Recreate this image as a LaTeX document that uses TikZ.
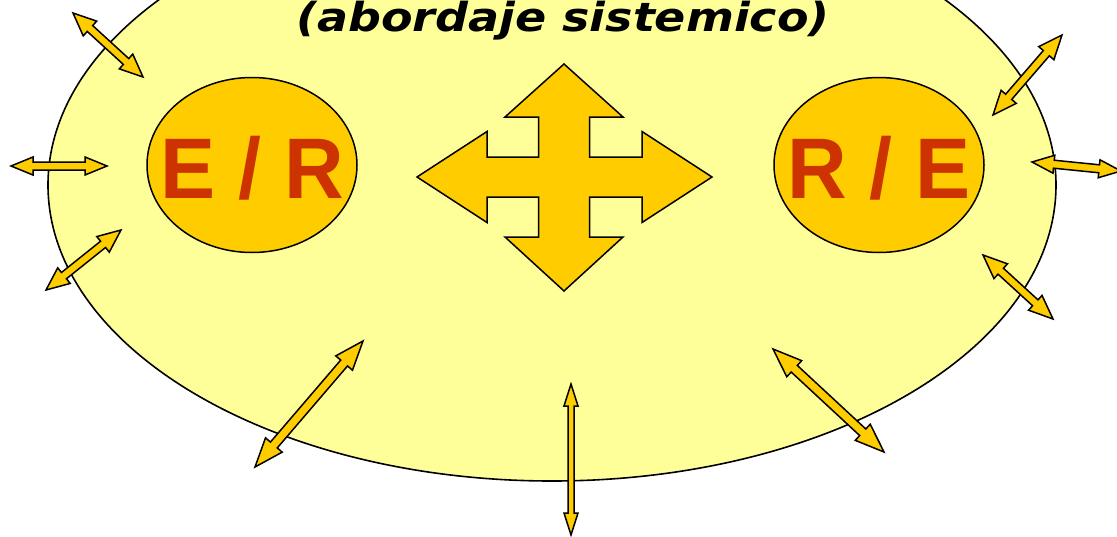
\documentclass[tikz,border=0pt]{standalone}
\usepackage{fontspec}
\usetikzlibrary{calc,shapes.geometric}

\newfontfamily\titlefont{DejaVu Sans}
\newfontfamily\letterfont{Liberation Sans}

\definecolor{paleyellow}{HTML}{FFFF99}
\definecolor{gold}{HTML}{FFCC00}
\definecolor{rust}{HTML}{CC3300}

% double headed block arrow between two named coordinates
% #3 shaft half width, #4 head half width, #5 head length
\newcommand{\dblarrow}[5]{%
  \draw[blockarrow] (#1)
    -- ($(#1)!#5!(#2)!#4!90:(#2)$)
    -- ($(#1)!#5!(#2)!#3!90:(#2)$)
    -- ($(#2)!#5!(#1)!#3!-90:(#1)$)
    -- ($(#2)!#5!(#1)!#4!-90:(#1)$)
    -- (#2)
    -- ($(#2)!#5!(#1)!#4!90:(#1)$)
    -- ($(#2)!#5!(#1)!#3!90:(#1)$)
    -- ($(#1)!#5!(#2)!#3!-90:(#2)$)
    -- ($(#1)!#5!(#2)!#4!-90:(#2)$)
    -- cycle;}

\begin{document}
\begin{tikzpicture}[x=1pt,y=-1pt,
  blockarrow/.style={draw=black, fill=gold, line width=1.5pt, line join=miter},
  field/.style    ={draw=black, fill=paleyellow, line width=1.6pt},
  pole/.style     ={draw=black, fill=gold, ellipse, line width=1.5pt,
                    minimum width=210pt, minimum height=175pt, inner sep=0pt},
  poletext/.style ={font=\letterfont\bfseries\fontsize{86}{86}\selectfont,
                    text=rust, anchor=base, xscale=0.96}
]
\clip (0,0) rectangle (1117,536);
\fill[white] (0,0) rectangle (1117,536);

%% -- system boundary ----------------------------------------------------
\draw[field] (552,185) ellipse [x radius=504, y radius=296];

\node[font=\titlefont\bfseries\itshape\fontsize{40}{40}\selectfont,
      anchor=base, xscale=1.15] (title) at (563,31) {(abordaje sistemico)};

%% -- exchanges with the environment --------------------------------------
\coordinate (tl1) at (73,13);    \coordinate (tl2) at (143,77);
\coordinate (l1)  at (11,166);   \coordinate (l2)  at (107,166);
\coordinate (bl1) at (46,290);   \coordinate (bl2) at (121,230);
\coordinate (tr1) at (1062,35);  \coordinate (tr2) at (993,115);
\coordinate (r1)  at (1032,162); \coordinate (r2)  at (1121,171);
\coordinate (br1) at (983,255);  \coordinate (br2) at (1053,319);
\coordinate (dl1) at (363,341);  \coordinate (dl2) at (255,467);
\coordinate (d1)  at (571,384);  \coordinate (d2)  at (571,535);
\coordinate (dr1) at (773,349);  \coordinate (dr2) at (884,452);

\dblarrow{tl1}{tl2}{4pt}{10pt}{23pt}
\dblarrow{l1}{l2}{4pt}{9pt}{22pt}
\dblarrow{bl1}{bl2}{4pt}{10pt}{23pt}
\dblarrow{tr1}{tr2}{4pt}{10pt}{24pt}
\dblarrow{r1}{r2}{4pt}{9pt}{22pt}
\dblarrow{br1}{br2}{4pt}{10pt}{24pt}
\dblarrow{dl1}{dl2}{4.5pt}{11pt}{29pt}
\dblarrow{d1}{d2}{3pt}{7pt}{22pt}
\dblarrow{dr1}{dr2}{4.5pt}{11pt}{29pt}

%% -- the two poles --------------------------------------------------------
\node[pole] (er) at (252,165) {};
\node[pole] (re) at (879,165) {};
\node[poletext] at ([yshift=-33pt]er.center) {E / R};
\node[poletext] at ([yshift=-33pt]re.center) {R / E};

%% -- four way arrow ---------------------------------------------------------
\coordinate (hub) at (564,177);
\draw[blockarrow, shift={(hub)}]
  (0,-113) -- (59,-60) -- (25.5,-60) -- (25.5,-20) -- (78,-20) -- (78,-45.5)
  -- (148,0) -- (78,45.5) -- (78,20) -- (25.5,20) -- (25.5,60) -- (59,60)
  -- (0,114) -- (-59,60) -- (-25.5,60) -- (-25.5,20) -- (-77,20) -- (-77,45.5)
  -- (-147,0) -- (-77,-45.5) -- (-77,-20) -- (-25.5,-20) -- (-25.5,-60)
  -- (-59,-60) -- cycle;

\end{tikzpicture}
\end{document}
